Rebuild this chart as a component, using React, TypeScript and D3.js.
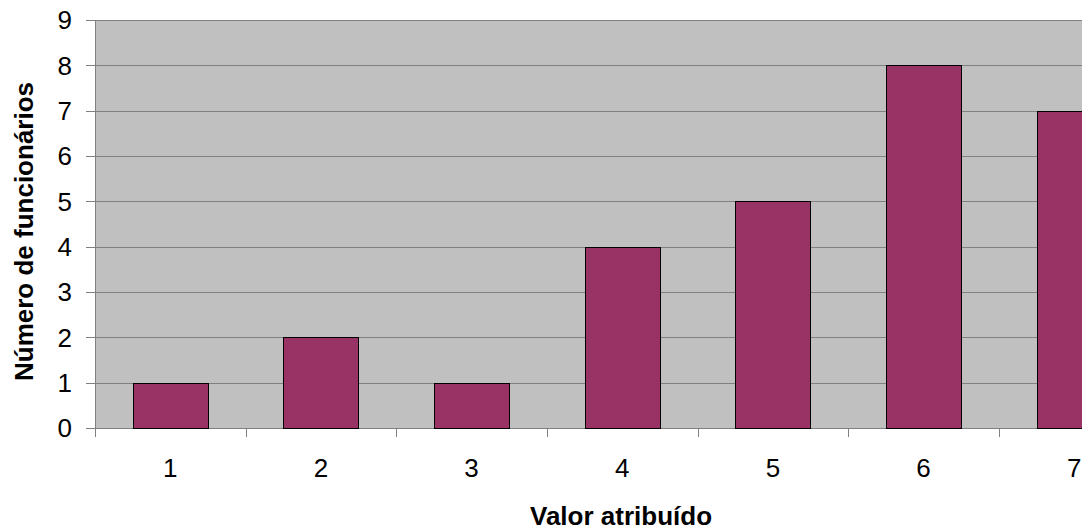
import React from "react";
import * as d3 from "d3";

// Distribution of employees by assigned score
const categories: string[] = ["1", "2", "3", "4", "5", "6", "7"];
const counts: number[] = [1, 2, 1, 4, 5, 8, 7];
const yTicks: number[] = [0, 1, 2, 3, 4, 5, 6, 7, 8, 9];
const yTitle = "Número de funcionários";
const xTitle = "Valor atribuído";

const W = 1082;
const H = 531;
const plot = { left: 95, top: 20, right: 1149.5, bottom: 428 };

export default function App() {
  const x = d3
    .scaleBand<string>()
    .domain(categories)
    .range([plot.left, plot.right])
    .paddingInner(0.5)
    .paddingOuter(0.25);
  const y = d3.scaleLinear().domain([0, 9]).range([plot.bottom, plot.top]);
  const step = x.step();
  const font = "'Liberation Sans', Arial, sans-serif";

  return (
    <svg
      width={W}
      height={H}
      style={{ position: "absolute", left: 0, top: 0, background: "#fff" }}
    >
      <rect
        x={plot.left}
        y={plot.top}
        width={plot.right - plot.left}
        height={plot.bottom - plot.top}
        fill="#c0c0c0"
      />
      {yTicks.map((t) => (
        <g key={t}>
          <line
            x1={plot.left - 9}
            x2={plot.right}
            y1={Math.round(y(t)) + 0.5}
            y2={Math.round(y(t)) + 0.5}
            stroke="#808080"
            strokeWidth={1}
          />
          <text
            x={72}
            y={y(t)}
            dy="0.36em"
            textAnchor="end"
            fontFamily={font}
            fontSize={26}
            fill="#000"
          >
            {t}
          </text>
        </g>
      ))}
      <line
        x1={plot.left + 0.5}
        x2={plot.left + 0.5}
        y1={plot.top}
        y2={plot.bottom + 9}
        stroke="#808080"
      />
      {d3.range(categories.length + 1).map((i) => {
        const tx = Math.round(plot.left + i * step) + 0.5;
        return (
          <line
            key={i}
            x1={tx}
            x2={tx}
            y1={plot.bottom}
            y2={plot.bottom + 9}
            stroke="#808080"
          />
        );
      })}
      {categories.map((c, i) => (
        <rect
          key={c}
          x={Math.round(x(c)!) + 0.5}
          y={Math.round(y(counts[i])) + 0.5}
          width={Math.round(x.bandwidth())}
          height={Math.round(y(0)) - Math.round(y(counts[i]))}
          fill="#993366"
          stroke="#000"
          strokeWidth={1}
        />
      ))}
      {categories.map((c) => (
        <text
          key={c}
          x={x(c)! + x.bandwidth() / 2}
          y={477}
          textAnchor="middle"
          fontFamily={font}
          fontSize={26}
          fill="#000"
        >
          {c}
        </text>
      ))}
      <text
        transform={`translate(33, 231.5) rotate(-90)`}
        textAnchor="middle"
        fontFamily={font}
        fontWeight="bold"
        fontSize={26}
        fill="#000"
      >
        {yTitle}
      </text>
      <text
        x={621}
        y={525}
        textAnchor="middle"
        fontFamily={font}
        fontWeight="bold"
        fontSize={26}
        fill="#000"
      >
        {xTitle}
      </text>
    </svg>
  );
}
